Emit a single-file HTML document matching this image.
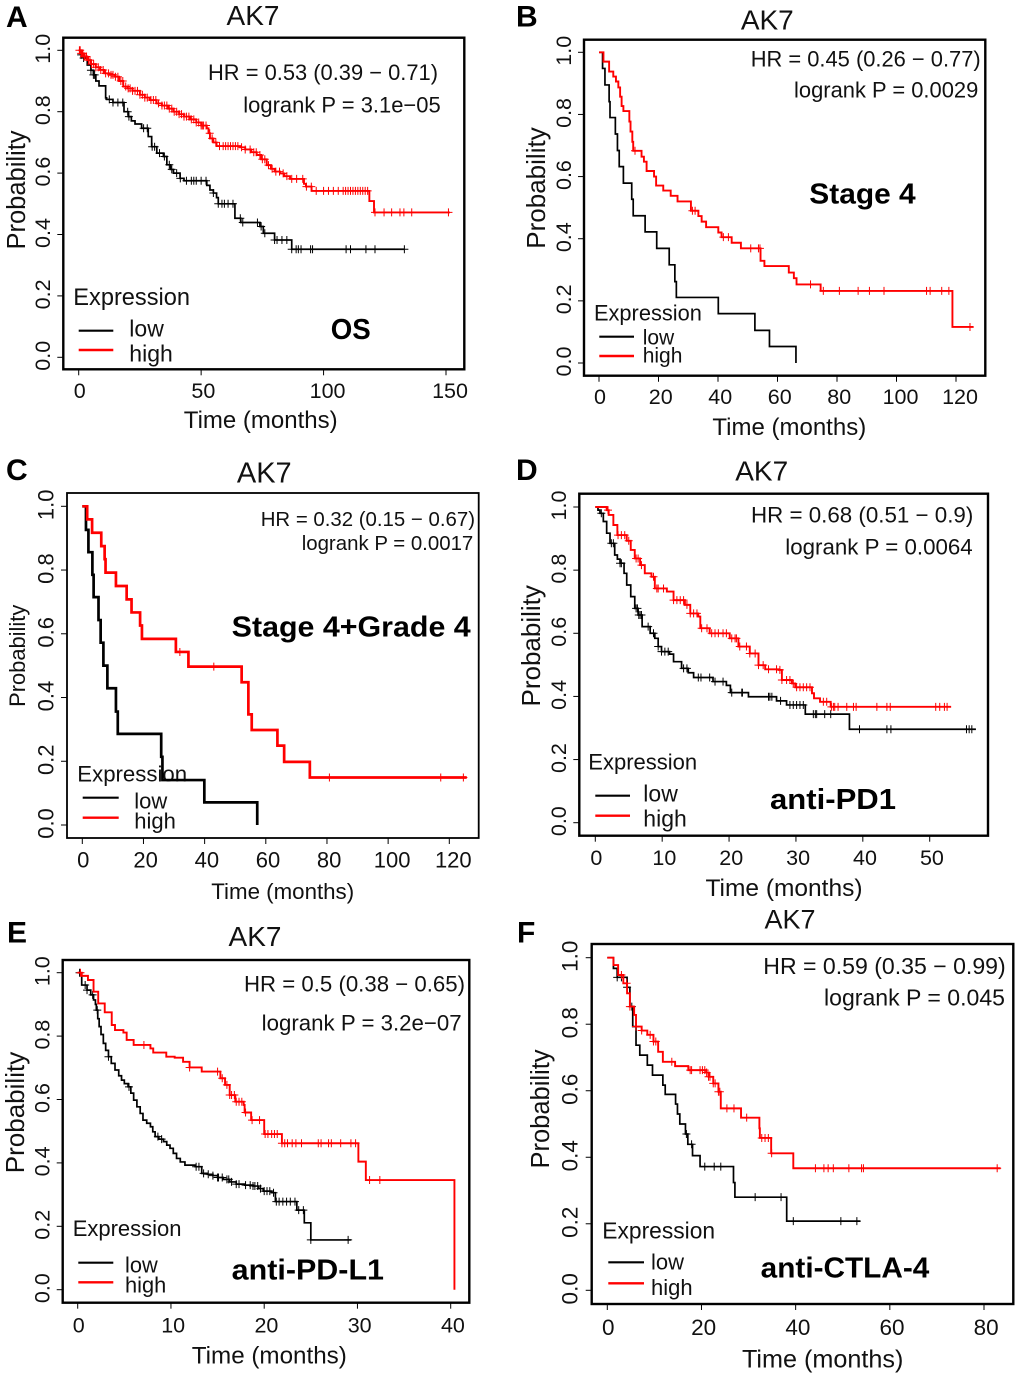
<!DOCTYPE html>
<html lang="en">
<head>
<meta charset="utf-8">
<title>AK7 Kaplan-Meier survival panels</title>
<style>
html,body{margin:0;padding:0;background:#fff;}
svg{display:block;filter:blur(0.3px);}
text{font-family:"Liberation Sans",Arial,sans-serif;fill:#111;}
.letter{font-weight:bold;font-size:30px;fill:#000;}
.note{font-weight:bold;font-size:29px;fill:#000;}
.t{text-anchor:middle;}
</style>
</head>
<body>
<svg id="figure" xmlns="http://www.w3.org/2000/svg" width="1020" height="1379" viewBox="0 0 1020 1379">
<rect x="0" y="0" width="1020" height="1379" fill="#fff"/>

<g id="panel-a">
<text class="letter" x="6" y="27">A</text>
<text class="t" x="253" y="25" font-size="28">AK7</text>
<text class="t" x="260.7" y="428" font-size="24">Time (months)</text>
<text class="t" transform="translate(25,190) rotate(-90)" font-size="25.5">Probability</text>
<text x="208" y="80" font-size="22" textLength="230" lengthAdjust="spacingAndGlyphs">HR = 0.53 (0.39 − 0.71)</text>
<text x="243.3" y="112.7" font-size="22" textLength="197.4" lengthAdjust="spacingAndGlyphs">logrank P = 3.1e−05</text>
<text x="73.3" y="305" font-size="23.6">Expression</text>
<text x="129.3" y="336.7" font-size="23">low</text>
<text x="129.3" y="361.7" font-size="23">high</text>
<text class="note" x="330.7" y="339" textLength="40" lengthAdjust="spacingAndGlyphs">OS</text>
</g>

<g id="panel-b">
<text class="letter" x="516" y="26.7">B</text>
<text class="t" x="767.3" y="29.3" font-size="28">AK7</text>
<text class="t" x="789.3" y="435" font-size="24">Time (months)</text>
<text class="t" transform="translate(545,188) rotate(-90)" font-size="26">Probability</text>
<text x="750.7" y="66.7" font-size="22" textLength="230" lengthAdjust="spacingAndGlyphs">HR = 0.45 (0.26 − 0.77)</text>
<text x="794" y="97.7" font-size="22" textLength="184.3" lengthAdjust="spacingAndGlyphs">logrank P = 0.0029</text>
<text x="594" y="320.7" font-size="21.8">Expression</text>
<text x="642.7" y="344.3" font-size="21">low</text>
<text x="642.7" y="362.7" font-size="21">high</text>
<text class="note" x="809.3" y="203.3" textLength="106.4" lengthAdjust="spacingAndGlyphs">Stage 4</text>
</g>

<g id="panel-c">
<text class="letter" x="6" y="480">C</text>
<text class="t" x="264.3" y="482.3" font-size="29">AK7</text>
<text class="t" x="282.7" y="899" font-size="22.3">Time (months)</text>
<text class="t" transform="translate(25,655.8) rotate(-90)" font-size="21.9">Probability</text>
<text x="260.7" y="526" font-size="20.4" textLength="214.3" lengthAdjust="spacingAndGlyphs">HR = 0.32 (0.15 − 0.67)</text>
<text x="301.7" y="550" font-size="20.4" textLength="171.6" lengthAdjust="spacingAndGlyphs">logrank P = 0.0017</text>
<text x="77.3" y="781.7" font-size="22.2">Expression</text>
<text x="134.3" y="808.3" font-size="22">low</text>
<text x="134.3" y="828.3" font-size="22">high</text>
<text class="note" x="231.7" y="636.7" textLength="239" lengthAdjust="spacingAndGlyphs">Stage 4+Grade 4</text>
</g>

<g id="panel-d">
<text class="letter" x="516" y="480">D</text>
<text class="t" x="761.7" y="480.7" font-size="28">AK7</text>
<text class="t" x="784" y="896" font-size="24.5">Time (months)</text>
<text class="t" transform="translate(540,645.8) rotate(-90)" font-size="26">Probability</text>
<text x="751" y="522.3" font-size="22" textLength="222.3" lengthAdjust="spacingAndGlyphs">HR = 0.68 (0.51 − 0.9)</text>
<text x="785.3" y="554.7" font-size="22" textLength="187.4" lengthAdjust="spacingAndGlyphs">logrank P = 0.0064</text>
<text x="588.3" y="769.3" font-size="22">Expression</text>
<text x="643.3" y="801.7" font-size="23">low</text>
<text x="643.3" y="826.7" font-size="23">high</text>
<text class="note" x="770" y="809" textLength="126" lengthAdjust="spacingAndGlyphs">anti-PD1</text>
</g>

<g id="panel-e">
<text class="letter" x="7" y="942.7">E</text>
<text class="t" x="255" y="946" font-size="28">AK7</text>
<text class="t" x="269.3" y="1363.3" font-size="24.2">Time (months)</text>
<text class="t" transform="translate(24,1112.5) rotate(-90)" font-size="26">Probability</text>
<text x="244" y="991.7" font-size="22" textLength="221" lengthAdjust="spacingAndGlyphs">HR = 0.5 (0.38 − 0.65)</text>
<text x="261.7" y="1030.7" font-size="22" textLength="200" lengthAdjust="spacingAndGlyphs">logrank P = 3.2e−07</text>
<text x="72.7" y="1236" font-size="22">Expression</text>
<text x="125" y="1272.7" font-size="21.8">low</text>
<text x="125" y="1292.7" font-size="21.8">high</text>
<text class="note" x="231.7" y="1279.3" textLength="152.3" lengthAdjust="spacingAndGlyphs">anti-PD-L1</text>
</g>

<g id="panel-f">
<text class="letter" x="517" y="942.7">F</text>
<text class="t" x="790" y="928.3" font-size="27">AK7</text>
<text class="t" x="822.7" y="1367.7" font-size="25.2">Time (months)</text>
<text class="t" transform="translate(549,1109) rotate(-90)" font-size="25.5">Probability</text>
<text x="763.3" y="974" font-size="23" textLength="242.4" lengthAdjust="spacingAndGlyphs">HR = 0.59 (0.35 − 0.99)</text>
<text x="824" y="1005.7" font-size="23" textLength="181" lengthAdjust="spacingAndGlyphs">logrank P = 0.045</text>
<text x="602.3" y="1238.3" font-size="22.8">Expression</text>
<text x="651" y="1269.3" font-size="22">low</text>
<text x="651" y="1295" font-size="22">high</text>
<text class="note" x="760.7" y="1277.7" textLength="168.6" lengthAdjust="spacingAndGlyphs">anti-CTLA-4</text>
</g>
</svg>

<script>
// Shared probability axis
const probTicks = [0, 0.2, 0.4, 0.6, 0.8, 1];
const probTickLabels = ["0.0", "0.2", "0.4", "0.6", "0.8", "1.0"];

// Panel A: OS
const aTimeTicks = [0, 50, 100, 150];
const aLowT = [0,1,2,3.5,5,6,7,8.3,11,11.4,14,18.5,20.3,21.5,23,25.7,28.4,29.8,31.9,34.6,36,37.5,38.7,41.4,43,52.3,53.6,55,56.3,57,63.8,66.2,74,75.4,80,87,133];
const aLowS = [1,.985,.975,.952,.935,.92,.9,.884,.845,.84,.83,.8,.784,.77,.76,.746,.719,.686,.665,.654,.627,.612,.6,.583,.575,.56,.545,.535,.52,.5,.453,.439,.426,.404,.382,.352,.352];
const aLowCensor = [1,2,5,6,6.5,12.5,14,16,18,20,20.5,26.5,28,30,31,33,35,37,38,40,41.5,44,46,47,48,50,52,55,57,58.5,59.5,61,63,66,67,73,74.5,76,80,81,83,85,87,88.8,89.7,90.8,94.7,95.5,109.2,111,117.3,121,133];
const aHighT = [0,1,2,3.5,5,7,8.7,10.5,12.5,14.8,16.5,18.2,20,22,25,27,29,31.8,34,36.5,38.7,41,43,45.5,48,50,52.3,53,53.6,55,56.3,65.9,68,70.5,72.7,74.5,76.8,78.5,80,82.2,84,86.3,92,92.8,95.1,118.7,120.6,151.6];
const aHighS = [1,.99,.98,.968,.955,.945,.936,.925,.92,.914,.9,.882,.876,.868,.855,.846,.838,.827,.82,.81,.8,.792,.784,.775,.765,.755,.746,.73,.713,.7,.688,.684,.677,.668,.659,.645,.626,.614,.605,.599,.59,.581,.565,.556,.542,.509,.472,.472];
const aHighCensor = [.3,.6,1,1.3,1.7,2.2,2.6,3.2,4,4.6,5.2,6.1,7,8,9,10,11,12.2,13.2,14,15,16,17.2,18,19.2,20.2,21,22,23,24,25,26,27,28,29.5,30.5,31.5,32.6,34,35,36,37,38,39,40,41,42,43,44,45,46,47,48,49,50,50.5,51,52,53.5,54.5,56,57.5,59,60,61,62,63,64,65,66.5,68,70,71.5,72.5,74,75,76,77.5,79,80.5,82,83.5,85,87,89,91.5,93,95,97,100,102,104,106,108,109,110,111,112,113,114,115,116,117,118,121,124.7,127.8,131.2,132.8,136,151];

// Panel B: Stage 4
const bTimeTicks = [0, 20, 40, 60, 80, 100, 120];
const bLowT = [0,1.2,2,3.4,3.7,5.5,6.2,6.8,8.2,11,11.5,15.5,19.4,23.6,25.5,26,40.1,52.4,57.3,66.2];
const bLowS = [1,.948,.895,.841,.79,.737,.684,.632,.579,.527,.474,.422,.369,.316,.262,.211,.159,.105,.053,0];
const bLowCensor = [];
const bHighT = [0,1.5,3.4,4.8,5.7,6.5,7.1,7.6,8.2,10.2,10.6,11.2,11.5,14.3,15.1,16,18.5,19.2,21.6,24.1,26.4,30.9,33.4,34.5,36,40.1,41.2,44.6,47.7,54.3,55.6,63.8,65.5,66.4,74.5,118.8,125.8];
const bHighS = [1,.97,.938,.922,.906,.887,.857,.827,.811,.777,.745,.712,.683,.664,.648,.618,.6,.571,.555,.538,.52,.49,.473,.455,.437,.42,.405,.387,.369,.329,.312,.291,.273,.253,.232,.116,.116];
const bHighCensor = [12.1,31.4,32.3,41.8,43.5,51,53.6,54.1,71.1,75.4,80.8,87.1,90.9,95.8,110.1,111.3,115.2,117.6,124.7];

// Panel C: Stage 4 + Grade 4
const cTimeTicks = [0, 20, 40, 60, 80, 100, 120];
const cLowT = [0,1.2,2,3.3,3.7,5.3,6,6.9,8.2,11,11.6,25.8,26.2,39.9,57.2];
const cLowS = [1,.926,.856,.785,.715,.643,.572,.5,.429,.356,.286,.214,.141,.071,0];
const cLowCensor = [];
const cHighT = [0,1.6,3.2,6.2,7.3,7.6,11,14.5,16.1,18.9,19.5,30.6,34.7,52.1,54.3,55.4,63.8,66,74.4,125.7];
const cHighS = [1,.959,.917,.875,.834,.792,.75,.708,.667,.626,.584,.543,.497,.448,.347,.298,.249,.198,.149,.149];
const cHighCensor = [31.9,43,80.8,117.2,124.6];

// Panel D: anti-PD1
const dTimeTicks = [0, 10, 20, 30, 40, 50];
const dLowT = [0,.4,.7,1.2,1.7,2.2,2.9,3.3,3.7,4.3,4.7,5.3,5.9,6.4,7,8.2,8.9,9.4,9.9,11.1,11.7,12.9,13.9,14.7,17.6,19.6,20.2,22.9,27.1,28.6,31.4,38,56.9];
const dLowS = [1,.99,.98,.954,.917,.885,.848,.835,.822,.79,.753,.716,.679,.658,.621,.6,.584,.558,.542,.534,.51,.489,.475,.46,.447,.435,.412,.399,.386,.373,.344,.296,.296];
const dLowCensor = [.9,2.4,2.7,3.7,3.9,6.1,6.3,6.5,6.7,6.9,7.9,8.7,9.4,9.9,10.4,10.9,13.2,13.7,15.4,15.8,17.1,17.9,19.1,20.4,21.9,22,25.9,26.1,26.4,27.7,29.1,29.6,30.1,30.6,31.1,32.6,32.9,33.1,34.3,35.2,39.5,43.6,44.2,55.5,55.9,56.3];
const dHighT = [0,1.7,2,2.7,3.3,4.7,5.3,5.9,6.7,7.4,8.4,8.9,10.7,11.7,13.4,14.2,15.4,15.7,17.1,20.1,21.4,23.1,24.4,25.4,27.4,27.9,29.4,29.9,32.4,32.7,33.6,35.2,53.2];
const dHighS = [1,.99,.975,.943,.911,.893,.864,.837,.816,.79,.779,.742,.732,.705,.69,.663,.653,.616,.6,.584,.558,.536,.499,.486,.484,.452,.441,.429,.41,.394,.383,.367,.367];
const dHighCensor = [1.9,3.4,3.9,4.4,5,6.1,6.4,6.9,8.7,9.2,9.4,10.2,11.7,12.2,12.7,13.2,13.7,14.2,14.7,15.2,15.9,16.7,17.4,17.9,18.4,19.1,19.6,20.4,20.9,21.1,21.6,22.6,23.1,23.9,24.4,25.1,25.9,27.1,27.6,27.9,28.6,29.1,29.6,30.1,30.6,31.1,31.6,32.1,34.1,34.6,35.3,35.6,35.8,36.3,37.6,38.6,39,42.1,43.6,44.1,50.9,51.5,52.2,52.6];

// Panel E: anti-PD-L1
const eTimeTicks = [0, 10, 20, 30, 40];
const eLowT = [0,.25,.43,1,1.4,1.7,1.9,2,2.15,2.3,2.5,2.75,3,3.3,3.6,4,4.4,4.7,5,5.4,5.7,6,6.35,6.7,7,7.4,7.8,8.05,8.3,8.7,9.2,9.55,9.9,10.25,10.6,11,11.5,12.6,13.3,13.9,14.5,15,15.6,16.3,17,17.9,18.8,19.4,19.9,20.8,21.2,23.5,24.3,25,29.3];
const eLowS = [1,.998,.961,.945,.93,.914,.9,.882,.855,.83,.805,.777,.755,.735,.714,.693,.675,.661,.65,.64,.62,.598,.577,.556,.535,.525,.514,.498,.483,.475,.467,.456,.446,.43,.414,.403,.393,.388,.367,.364,.36,.354,.348,.34,.333,.33,.327,.319,.311,.306,.278,.251,.211,.157,.157];
const eLowCensor = [.2,.8,1,1.6,2.1,3.3,5.5,8.6,9,12.7,13,13.5,14,14.5,15,15.1,15.5,16,16.2,16.5,17,17.3,18,18.5,18.8,19,19.3,19.6,20,20.3,20.6,21,21.3,21.6,22,22.4,22.8,23.3,23.7,24.2,25,29];
const eHighT = [0,.43,1.1,1.7,2.2,2.9,3.65,4,4.9,5.25,6,7.8,8.1,9.5,10.4,11.3,12,13.3,15.3,15.8,16.3,16.9,17.8,17.9,18.6,20,21.9,30.1,30.9,40.4,40.4];
const eHighS = [1,.99,.977,.94,.903,.875,.835,.819,.811,.788,.772,.761,.748,.735,.732,.719,.701,.688,.667,.646,.614,.593,.583,.559,.535,.491,.462,.404,.346,0,0];
const eHighCensor = [.3,7.1,12,15,15.5,16,16.3,16.5,16.8,17,17.3,17.6,18,18.7,19.5,20.1,20.4,20.8,21.1,21.4,21.9,22.2,22.5,23,23.4,24,25.8,26.1,26.9,27.2,28.2,29.3,29.8,31.3,32.4];

// Panel F: anti-CTLA-4
const fTimeTicks = [0, 20, 40, 60, 80];
const fLowT = [0,1.3,2.1,4.2,4.8,5.4,6.1,6.9,8.5,9.6,11.8,12.3,14.5,14.9,15.4,16.6,17.1,18.1,19.7,26.8,27.1,38.1,53.7];
const fLowS = [1,.968,.941,.911,.853,.793,.737,.707,.677,.647,.617,.589,.56,.53,.5,.47,.439,.405,.372,.324,.28,.208,.208];
const fLowCensor = [2.1,3,4.2,5.2,16.8,17.9,20.7,22.7,24.1,31.4,36.9,39.5,49.6,53];
const fHighT = [0,1.3,2.3,3.4,4.2,4.8,5.7,6.1,7.3,8.5,9.8,10.8,11.8,14.4,17.2,21,21.5,22.5,23.6,24.1,28.4,32.3,32.4,34.8,39.5,83.5];
const fHighS = [1,.978,.948,.923,.893,.853,.828,.793,.781,.768,.748,.717,.687,.674,.662,.655,.642,.622,.597,.547,.519,.487,.458,.412,.367,.367];
const fHighCensor = [3,4.1,4.8,6.1,7.3,9.1,9.8,10.3,13.7,17.6,17.9,19.7,20.2,20.7,21.1,21.5,21.8,22.5,22.9,23.6,23.9,25.4,26.9,29.6,32.8,33.5,34.2,34.9,44.2,46,46.9,48,51.3,54,54.4,82.8];

const NS = "http://www.w3.org/2000/svg";
function mk(tag, attrs, parent) {
  const e = document.createElementNS(NS, tag);
  for (const k in attrs) e.setAttribute(k, attrs[k]);
  parent.appendChild(e);
  return e;
}

// Panel frames: pixel geometry only; the values come from the arrays above.
const panels = [
  {id:"panel-a", box:[63.3,37.7,464.3,369.3], x0:78.7, xEnd:446, xMax:150, y1:50.3, y0:357.3, xTicks:aTimeTicks, tickFont:21.5, xLabelY:398, yLabelX:50, frame:2.4, lowW:1.7, highW:1.9, lowT:aLowT, lowS:aLowS, lowC:aLowCensor, highT:aHighT, highS:aHighS, highC:aHighCensor, leg:[78.7,113.3,330.7,350]},
  {id:"panel-b", box:[584,39.7,985.3,375.7], x0:599, xEnd:956, xMax:120, y1:52.3, y0:363, xTicks:bTimeTicks, tickFont:21.5, xLabelY:404, yLabelX:571, frame:2.4, lowW:1.7, highW:1.9, lowT:bLowT, lowS:bLowS, lowC:bLowCensor, highT:bHighT, highS:bHighS, highC:bHighCensor, leg:[599.3,634,336.7,356]},
  {id:"panel-c", box:[67,493,478.7,838], x0:82.3, xEnd:449.3, xMax:120, y1:506.3, y0:825, xTicks:cTimeTicks, tickFont:22, xLabelY:867.7, yLabelX:53.3, frame:1.8, lowW:2.7, highW:2.7, lowT:cLowT, lowS:cLowS, lowC:cLowCensor, highT:cHighT, highS:cHighS, highC:cHighCensor, leg:[82.7,118.7,797.7,817.7]},
  {id:"panel-d", box:[579.3,493.7,988,835.7], x0:595.3, xEnd:929.7, xMax:50, y1:507, y0:822.7, xTicks:dTimeTicks, tickFont:21.5, xLabelY:865, yLabelX:566, frame:2.4, lowW:1.7, highW:1.9, lowT:dLowT, lowS:dLowS, lowC:dLowCensor, highT:dHighT, highS:dHighS, highC:dHighCensor, leg:[595.3,630,795.7,815.7]},
  {id:"panel-e", box:[62.7,960,469.3,1302.7], x0:77.7, xEnd:450.7, xMax:40, y1:972.7, y0:1289.7, xTicks:eTimeTicks, tickFont:21.5, xLabelY:1332.3, yLabelX:49.3, frame:2.4, lowW:1.7, highW:1.9, lowT:eLowT, lowS:eLowS, lowC:eLowCensor, highT:eHighT, highS:eHighS, highC:eHighCensor, leg:[78.3,113.3,1262.7,1282.3]},
  {id:"panel-f", box:[591.7,944,1013.3,1304], x0:607.3, xEnd:984, xMax:80, y1:957.7, y0:1290.3, xTicks:fTimeTicks, tickFont:22.5, xLabelY:1335, yLabelX:577.7, frame:2.4, lowW:1.7, highW:1.9, lowT:fLowT, lowS:fLowS, lowC:fLowCensor, highT:fHighT, highS:fHighS, highC:fHighCensor, leg:[608.3,644,1262.3,1283.3]}
];

function survivalAt(T, S, t) {
  let v = S[0];
  for (let i = 0; i < T.length; i++) { if (T[i] <= t) v = S[i]; else break; }
  return v;
}

function labelOffset(t) {
  const n = String(t).length;
  return n === 1 ? 1 : (n === 2 ? 2.2 : 4);
}

function drawSeries(g, T, S, C, color, width, sx, sy, label) {
  let d = "M" + sx(T[0]).toFixed(2) + " " + sy(S[0]).toFixed(2);
  for (let i = 1; i < T.length; i++) {
    d += "H" + sx(T[i]).toFixed(2) + "V" + sy(S[i]).toFixed(2);
  }
  const curve = mk("path", {d:d, fill:"none", stroke:color, "stroke-width":width}, g);
  
  
  let m = "";
  C.forEach(function (t) {
    const x = sx(t), y = sy(survivalAt(T, S, t));
    m += "M" + (x - 4).toFixed(2) + " " + y.toFixed(2) + "h8M" + x.toFixed(2) + " " + (y - 4).toFixed(2) + "v8";
  });
  if (m) {
    const marks = mk("path", {d:m, fill:"none", stroke:color, "stroke-width":1}, g);
    
    
  }
}

panels.forEach(function (p) {
  const g = document.getElementById(p.id);
  const sx = function (t) { return p.x0 + t * (p.xEnd - p.x0) / p.xMax; };
  const sy = function (v) { return p.y0 + v * (p.y1 - p.y0); };
  const b = p.box;

  const frame = mk("rect", {x:b[0], y:b[1], width:b[2]-b[0], height:b[3]-b[1], fill:"none", stroke:"#000", "stroke-width":p.frame}, g);
  
  

  p.xTicks.forEach(function (t) {
    const tk = mk("line", {x1:sx(t), x2:sx(t), y1:b[3], y2:b[3]+6, stroke:"#000", "stroke-width":1}, g);
    
    
    const lb = mk("text", {x:sx(t)+labelOffset(t), y:p.xLabelY, "font-size":p.tickFont, "text-anchor":"middle"}, g);
    
    
    lb.textContent = String(t);
  });

  probTicks.forEach(function (v, i) {
    const tk = mk("line", {x1:b[0]-6, x2:b[0], y1:sy(v), y2:sy(v), stroke:"#000", "stroke-width":1}, g);
    
    
    const lb = mk("text", {transform:"translate(" + p.yLabelX + "," + (sy(v)-1.5) + ") rotate(-90)", "font-size":p.tickFont, "text-anchor":"middle"}, g);
    
    
    lb.textContent = probTickLabels[i];
  });

  const l1 = mk("line", {x1:p.leg[0], x2:p.leg[1], y1:p.leg[2], y2:p.leg[2], stroke:"#000", "stroke-width":2.2}, g);
  
  
  const l2 = mk("line", {x1:p.leg[0], x2:p.leg[1], y1:p.leg[3], y2:p.leg[3], stroke:"#f00", "stroke-width":2.4}, g);
  
  

  drawSeries(g, p.lowT, p.lowS, p.lowC, "#000", p.lowW, sx, sy, "low");
  drawSeries(g, p.highT, p.highS, p.highC, "#f00", p.highW, sx, sy, "high");
});
</script>
</body>
</html>
